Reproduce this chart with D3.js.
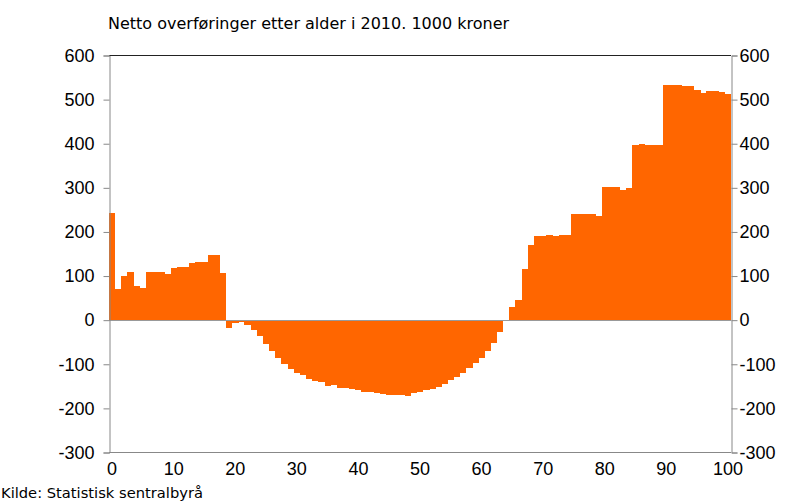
<!DOCTYPE html>
<html>
<head>
<meta charset="utf-8">
<script src="https://cdn.jsdelivr.net/npm/d3@7"></script>
<style>
  html, body { margin: 0; padding: 0; background: #fff; }
  svg { display: block; }
</style>
</head>
<body>
<script>
// Net transfers by age, 2010 (1000 NOK)
const ages = d3.range(0, 101);
const values = [
  241, 70, 100, 108, 76, 71, 108, 107, 107, 104,
  117, 119, 119, 129, 130, 131, 147, 146, 105, -20,
  -8, -6, -11, -23, -38, -55, -71, -88, -101, -112,
  -121, -126, -134, -139, -141, -150, -148, -154, -155, -157,
  -160, -163, -164, -167, -169, -170, -171, -170, -172, -167,
  -163, -160, -157, -152, -145, -136, -130, -120, -110, -99,
  -86, -72, -54, -27, 0, 29, 45, 115, 170, 189,
  189, 192, 189, 192, 193, 239, 239, 239, 239, 236,
  301, 301, 300, 295, 299, 395, 398, 397, 397, 397,
  532, 532, 532, 530, 530, 520, 513, 519, 519, 515,
  511
];
const yTicks = [-300, -200, -100, 0, 100, 200, 300, 400, 500, 600];
const xTicks = [0, 10, 20, 30, 40, 50, 60, 70, 80, 90, 100];

const title = 'Netto overføringer etter alder i 2010. 1000 kroner';
const source = 'Kilde: Statistisk sentralbyrå';

const W = 788, H = 502;
const m = { left: 109, right: 731, top: 55, bottom: 452 };

const svg = d3.select('body').append('svg')
  .attr('width', W)
  .attr('height', H);

const x = d3.scaleBand()
  .domain(ages)
  .range([m.left, m.right])
  .padding(0);

const y = d3.scaleLinear()
  .domain([-300, 600])
  .range([m.bottom, m.top]);

// bars
svg.append('g')
  .selectAll('rect')
  .data(ages)
  .join('rect')
    .attr('x', d => x(d))
    .attr('width', x.bandwidth() + 0.3)
    .attr('y', d => y(Math.max(0, values[d])))
    .attr('height', d => Math.abs(y(values[d]) - y(0)))
    .attr('fill', '#ff6600')
    .attr('shape-rendering', 'crispEdges');

// frame
svg.append('line')
  .attr('x1', m.left).attr('x2', m.right)
  .attr('y1', m.top + 0.5).attr('y2', m.top + 0.5)
  .attr('stroke', '#222');
svg.append('line')
  .attr('x1', m.left).attr('x2', m.right)
  .attr('y1', m.bottom + 0.5).attr('y2', m.bottom + 0.5)
  .attr('stroke', '#888');
svg.append('line')
  .attr('x1', m.left).attr('x2', m.right)
  .attr('y1', Math.round(y(0)) + 0.5).attr('y2', Math.round(y(0)) + 0.5)
  .attr('stroke', '#999');

const fontTicks = '"Liberation Sans", Arial, sans-serif';
const fmt = d => String(d);

// left axis
const yAxisL = d3.axisLeft(y).tickValues(yTicks).tickSize(6).tickPadding(9).tickFormat(fmt);
const gl = svg.append('g')
  .attr('transform', `translate(${m.left + 0.5},0.5)`)
  .call(yAxisL);

// right axis
const yAxisR = d3.axisRight(y).tickValues(yTicks).tickSize(6).tickPadding(2).tickFormat(fmt);
const gr = svg.append('g')
  .attr('transform', `translate(${m.right + 0.5},0.5)`)
  .call(yAxisR);

[gl, gr].forEach(g => {
  g.select('.domain').attr('stroke', '#888');
  g.selectAll('.tick line').attr('stroke', '#888');
  g.selectAll('.tick text')
    .attr('fill', '#000')
    .style('font-family', fontTicks)
    .style('font-size', '18px');
});

// x axis labels
const gx = svg.append('g')
  .attr('transform', `translate(0,${m.bottom})`)
  .call(d3.axisBottom(x).tickValues(xTicks).tickSize(0).tickPadding(10).tickFormat(fmt));
gx.select('.domain').remove();
gx.selectAll('.tick text')
  .attr('fill', '#000')
  .style('font-family', fontTicks)
  .style('font-size', '18px');

// title and source
svg.append('text')
  .attr('x', 108)
  .attr('y', 29)
  .style('font-family', '"DejaVu Sans", Verdana, sans-serif')
  .style('font-size', '16px')
  .attr('fill', '#000')
  .text(title);

svg.append('text')
  .attr('x', 1)
  .attr('y', 498)
  .style('font-family', '"DejaVu Sans", Verdana, sans-serif')
  .style('font-size', '14.7px')
  .attr('fill', '#000')
  .text(source);
</script>
</body>
</html>
